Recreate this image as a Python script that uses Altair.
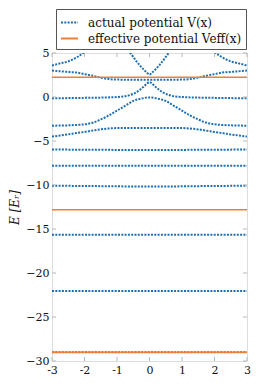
import altair as alt
import pandas as pd

# ---- tick values ----
x_ticks = [-3, -2, -1, 0, 1, 2, 3]
y_ticks = [-30, -25, -20, -15, -10, -5, 0, 5]

# ---- series names ----
series_names = ["actual potential V(x)", "effective potential Veff(x)"]

# ---- actual potential bands (x, E) ----
b1_x = [-3, 0, 3]
b1_E = [-29.0, -29.0, -29.0]
b2_x = [-3, 0, 3]
b2_E = [-22.05, -22.05, -22.05]
b3_x = [-3, 0, 3]
b3_E = [-15.65, -15.65, -15.65]
b4_x = [-3, -1.5, 0, 1.5, 3]
b4_E = [-10.08, -10.13, -10.18, -10.13, -10.08]
b5_x = [-3, 0, 3]
b5_E = [-7.8, -7.8, -7.8]
b6_x = [-3, -1.5, 0, 1.5, 3]
b6_E = [-5.97, -6.0, -6.03, -6.0, -5.97]
b7_x = [-3, -2.75, -2.5, -2.25, -2, -1.75, -1.5, -1.25, -1, 0, 1, 1.25, 1.5, 1.75, 2, 2.25, 2.5, 2.75, 3]
b7_E = [-4.5, -4.38, -4.25, -4.1, -3.97, -3.82, -3.68, -3.58, -3.53, -3.52, -3.53, -3.58, -3.68, -3.82, -3.97, -4.1, -4.25, -4.38, -4.5]
b8_x = [-3, -2.5, -2, -1.75, -1.5, -1.25, -1, -0.75, -0.5, -0.25, 0, 0.25, 0.5, 0.75, 1, 1.25, 1.5, 1.75, 2, 2.5, 3]
b8_E = [-3.26, -3.22, -3.1, -2.92, -2.55, -2.1, -1.55, -1.0, -0.45, -0.18, -0.05, -0.18, -0.45, -1.0, -1.55, -2.1, -2.55, -2.92, -3.1, -3.22, -3.26]
b9_x = [-3, -2, -1.5, -1, -0.8, -0.6, -0.5, -0.4, -0.3, -0.2, -0.1, 0, 0.1, 0.2, 0.3, 0.4, 0.5, 0.6, 0.8, 1, 1.5, 2, 3]
b9_E = [-0.15, -0.1, -0.07, 0.0, 0.06, 0.22, 0.36, 0.55, 0.81, 1.1, 1.45, 1.7, 1.45, 1.1, 0.81, 0.55, 0.36, 0.22, 0.06, 0.0, -0.07, -0.1, -0.15]
b10_x = [-3, -2.5, -2.25, -2, -1.75, -1.5, -1.25, -1, -0.5, 0, 0.5, 1, 1.25, 1.5, 1.75, 2, 2.25, 2.5, 3]
b10_E = [3.0, 2.85, 2.78, 2.6, 2.42, 2.2, 2.04, 1.98, 1.96, 1.95, 1.96, 1.98, 2.04, 2.2, 2.42, 2.6, 2.78, 2.85, 3.0]
b11l_x = [-3, -2.75, -2.5, -2.25, -2.0]
b11l_E = [3.58, 3.82, 4.05, 4.48, 5.1]
b11r_x = [2.0, 2.25, 2.5, 2.75, 3]
b11r_E = [5.1, 4.48, 4.05, 3.82, 3.58]
v_x = [-0.6, -0.5, -0.4, -0.3, -0.2, -0.1, 0, 0.1, 0.2, 0.3, 0.4, 0.5, 0.6]
v_E = [5.05, 4.55, 4.05, 3.6, 3.2, 2.85, 2.55, 2.85, 3.2, 3.6, 4.05, 4.55, 5.05]

# ---- effective potential levels ----
eff_x = [-3, 3]
eff_levels = [-29.0, -12.8, 2.25]

blue = "#1f6fb4"
orange = "#ef7f33"
tick_color = "#b8b8b8"
frame_color = "#383838"
FONT = "DejaVu Serif, Liberation Serif, serif"

actual_bands = {
    "b1": (b1_x, b1_E), "b2": (b2_x, b2_E), "b3": (b3_x, b3_E),
    "b4": (b4_x, b4_E), "b5": (b5_x, b5_E), "b6": (b6_x, b6_E),
    "b7": (b7_x, b7_E), "b8": (b8_x, b8_E), "b9": (b9_x, b9_E),
    "b10": (b10_x, b10_E), "b11l": (b11l_x, b11l_E), "b11r": (b11r_x, b11r_E),
    "v": (v_x, v_E),
}
rows = []
for name, (xs, es) in actual_bands.items():
    for xv, ev in zip(xs, es):
        rows.append({"x": xv, "E": ev, "band": name, "series": series_names[0]})
df_actual = pd.DataFrame(rows)

rows = []
for i, lv in enumerate(eff_levels):
    for xv in eff_x:
        rows.append({"x": xv, "E": lv, "band": f"e{i}", "series": series_names[1]})
df_eff = pd.DataFrame(rows)

W, H = 195, 308

legend = alt.Legend(
    title=None, orient="none", legendX=4, legendY=-44, direction="vertical",
    strokeColor="#555555", padding=4, rowPadding=-1, symbolType="stroke",
    symbolSize=289, symbolStrokeWidth=2, labelFontSize=12, labelOffset=9,
    labelFont=FONT, labelColor="#111111", fillColor="white",
)

color_enc = alt.Color("series:N", scale=alt.Scale(domain=series_names, range=[blue, orange]), legend=legend)
dash_enc = alt.StrokeDash("series:N", scale=alt.Scale(domain=series_names, range=[[2, 1.3], [1, 0]]), legend=legend)

x_axis = alt.Axis(values=x_ticks, ticks=False, grid=False, domain=False, title=None,
                  labelExpr="datum.value < 0 ? '-' + abs(datum.value) : '' + datum.value",
                  labelPadding=3, labelFontSize=11, labelFont=FONT, labelColor="#111111",
                  labelFlush=False)
y_axis = alt.Axis(values=y_ticks, ticks=False, grid=False, domain=False,
                  title="E [Eᵣ]", titleFont=FONT, titleFontSize=12, titleFontStyle="italic",
                  titleFontWeight="normal", titleColor="#111111", titlePadding=4,
                  labelExpr="datum.value < 0 ? '−' + abs(datum.value) : '' + datum.value",
                  labelPadding=3, labelFontSize=11, labelFont=FONT, labelColor="#111111",
                  labelFlush=False)
x_scale = alt.Scale(domain=[-3, 3], nice=False, zero=False)
y_scale = alt.Scale(domain=[-30, 5], nice=False, zero=False)

x_enc = alt.X("x:Q", scale=x_scale, axis=x_axis)
y_enc = alt.Y("E:Q", scale=y_scale, axis=y_axis)

actual = alt.Chart(df_actual).mark_line(strokeWidth=2, interpolate="monotone", clip=True).encode(
    x=x_enc, y=y_enc, color=color_enc, strokeDash=dash_enc, detail="band:N"
)
eff = alt.Chart(df_eff).mark_line(strokeWidth=1.5, clip=True).encode(
    x=x_enc, y=y_enc, color=color_enc, strokeDash=dash_enc, detail="band:N"
)

ydf = pd.DataFrame({"E": y_ticks})
xdf = pd.DataFrame({"x": x_ticks})
tick_left = alt.Chart(ydf).mark_rule(color=tick_color, strokeWidth=1).encode(
    y=y_enc, x=alt.value(0), x2=alt.value(4))
tick_right = alt.Chart(ydf).mark_rule(color=tick_color, strokeWidth=1).encode(
    y=y_enc, x=alt.value(W - 4), x2=alt.value(W))
tick_bottom = alt.Chart(xdf).mark_rule(color=tick_color, strokeWidth=1).encode(
    x=x_enc, y=alt.value(H - 4), y2=alt.value(H))
tick_top = alt.Chart(xdf).mark_rule(color=tick_color, strokeWidth=1).encode(
    x=x_enc, y=alt.value(0), y2=alt.value(4))

chart = alt.layer(actual, eff, tick_left, tick_right, tick_bottom, tick_top).properties(
    width=W, height=H,
    autosize=alt.AutoSizeParams(type="none"),
    padding={"left": 44, "top": 45, "right": 4, "bottom": 15},
).configure_view(stroke=frame_color, strokeWidth=1).configure(font=FONT)

chart.save("out.html", embed_options={"renderer": "svg", "actions": False})
